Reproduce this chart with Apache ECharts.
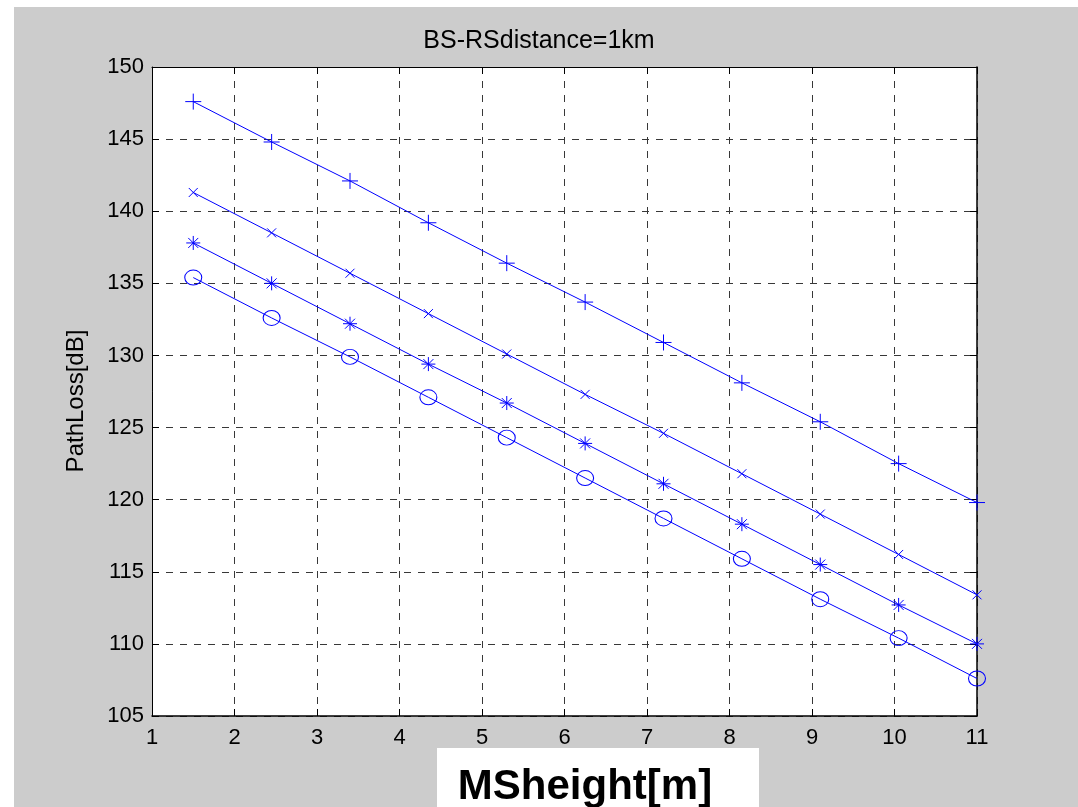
<!DOCTYPE html>
<html>
<head>
<meta charset="utf-8">
<script src="https://cdn.jsdelivr.net/npm/echarts@6/dist/echarts.min.js"></script>
<style>
  html, body { margin: 0; padding: 0; background: #ffffff; }
  #bg { position: absolute; left: 14px; top: 7px; right: 0; bottom: 0; background: #cccccc; }
  #chart { position: absolute; left: 0; top: 0; width: 1078px; height: 807px; }
</style>
</head>
<body>
<div id="bg"></div>
<div id="chart"></div>
<script>
// ---- data ----
var heights = [1.5, 2.45, 3.4, 4.35, 5.3, 6.25, 7.2, 8.15, 9.1, 10.05, 11];
var lossPlus = [147.6, 144.8, 142.1, 139.2, 136.4, 133.7, 130.9, 128.1, 125.4, 122.5, 119.8];
var lossCross = [141.3, 138.5, 135.7, 132.9, 130.1, 127.3, 124.6, 121.8, 119.0, 116.2, 113.4];
var lossStar = [137.8, 135.0, 132.2, 129.4, 126.7, 123.9, 121.1, 118.3, 115.5, 112.7, 110.0];
var lossCircle = [135.4, 132.6, 129.9, 127.1, 124.3, 121.5, 118.7, 115.9, 113.1, 110.4, 107.6];
var xTicks = [1, 2, 3, 4, 5, 6, 7, 8, 9, 10, 11];
var yTicks = [105, 110, 115, 120, 125, 130, 135, 140, 145, 150];
var titleText = 'BS-RSdistance=1km';
var xLabel = 'MSheight[m]';
var yLabel = 'PathLoss[dB]';

var FONT = "'Liberation Sans', Arial, sans-serif";
var BLUE = '#0000ff';

function pairs(ys) { return heights.map(function (x, i) { return [x, ys[i]]; }); }

function mkSeries(name, ys, symbol, size) {
  return {
    name: name, type: 'line', data: pairs(ys),
    symbol: symbol, symbolSize: size, showSymbol: true, showAllSymbol: true,
    clip: false, silent: true,
    lineStyle: { color: BLUE, width: 1 },
    itemStyle: { color: 'rgba(0,0,0,0)', borderColor: BLUE, borderWidth: 1 },
    emphasis: { disabled: true }
  };
}

var chart = echarts.init(document.getElementById('chart'), null, { renderer: 'canvas' });
var gridDash = { color: '#383838', width: 1, type: [7, 7] };
var option = {
  animation: false,
  backgroundColor: 'transparent',
  title: {
    text: titleText, left: 'center', top: 24,
    textStyle: { fontFamily: FONT, fontSize: 25, fontWeight: 'normal', color: '#000' }
  },
  grid: { left: 152, top: 67, right: 101, bottom: 91, show: true, backgroundColor: '#ffffff', borderWidth: 0 },
  xAxis: [{
    type: 'value', min: xTicks[0], max: xTicks[xTicks.length - 1], interval: 1,
    axisLine: { show: true, onZero: false, lineStyle: { color: '#000', width: 1.5 } },
    axisTick: { show: true, inside: true, length: 7, lineStyle: { color: '#000' } },
    axisLabel: { fontFamily: FONT, fontSize: 22, color: '#000', margin: 11 },
    splitLine: { show: true, lineStyle: gridDash }
  }, {
    type: 'value', position: 'top', min: xTicks[0], max: xTicks[xTicks.length - 1], interval: 1,
    axisLine: { show: true, onZero: false, lineStyle: { color: '#000', width: 1 } },
    axisTick: { show: true, inside: true, length: 7, lineStyle: { color: '#000' } },
    axisLabel: { show: false }, splitLine: { show: false }
  }],
  yAxis: [{
    type: 'value', min: yTicks[0], max: yTicks[yTicks.length - 1], interval: 5,
    axisLine: { show: true, onZero: false, lineStyle: { color: '#000', width: 1 } },
    axisTick: { show: true, inside: true, length: 7, lineStyle: { color: '#000' } },
    axisLabel: { fontFamily: FONT, fontSize: 22, color: '#000', margin: 8 },
    splitLine: { show: true, lineStyle: gridDash }
  }, {
    type: 'value', position: 'right', min: yTicks[0], max: yTicks[yTicks.length - 1], interval: 5,
    axisLine: { show: true, onZero: false, lineStyle: { color: '#000', width: 1.5 } },
    axisTick: { show: true, inside: true, length: 7, lineStyle: { color: '#000' } },
    axisLabel: { show: false }, splitLine: { show: false }
  }],
  series: [
    mkSeries('plus', lossPlus, 'path://M0,-8L0,8M-8,0L8,0', 16),
    mkSeries('cross', lossCross, 'path://M-5,-5L5,5M-5,5L5,-5', 9),
    mkSeries('star', lossStar, 'path://M0,-7L0,7M-7,0L7,0M-5,-5L5,5M-5,5L5,-5', 14),
    mkSeries('circle', lossCircle, 'circle', [17, 15])
  ],
  graphic: [
    { type: 'rect', shape: { x: 437, y: 748, width: 322, height: 59 }, style: { fill: '#ffffff' }, z: 10, silent: true },
    { type: 'text', x: 585, y: 787, z: 11, silent: true,
      style: { text: xLabel, fontFamily: FONT, fontSize: 42, fontWeight: 'bold', fill: '#000', textAlign: 'center', textVerticalAlign: 'middle' } },
    { type: 'text', x: 76, y: 401, rotation: Math.PI / 2, z: 11, silent: true,
      style: { text: yLabel, fontFamily: FONT, fontSize: 24, fill: '#000', textAlign: 'center', textVerticalAlign: 'middle' } }
  ]
};
chart.setOption(option);
</script>
</body>
</html>
